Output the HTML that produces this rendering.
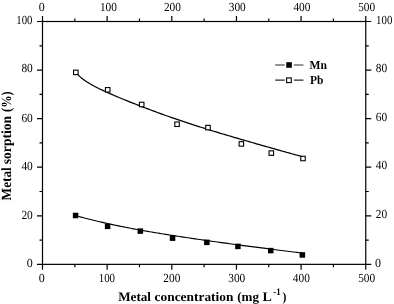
<!DOCTYPE html><html><head><meta charset="utf-8"><title>Metal sorption</title>
<style>html,body{margin:0;padding:0;background:#fff;}svg{display:block}text{font-family:"Liberation Serif",serif;fill:#000;text-rendering:geometricPrecision}.t{font-size:12.3px}.b{font-weight:bold;font-size:13px}.lg{font-weight:bold;font-size:12.3px}</style></head><body>
<svg width="394" height="304" viewBox="0 0 394 304">
<rect width="394" height="304" fill="#fff"/>
<g stroke="#000" stroke-width="1.2" fill="none" stroke-linecap="butt">
<rect x="42.5" y="21.5" width="323.25" height="242.85"/>
<path d="M42.50 21.5 v-5.5 M42.50 264.35 v5.5"/>
<path d="M74.83 21.5 v-3.0 M74.83 264.35 v3.0"/>
<path d="M107.15 21.5 v-5.5 M107.15 264.35 v5.5"/>
<path d="M139.47 21.5 v-3.0 M139.47 264.35 v3.0"/>
<path d="M171.80 21.5 v-5.5 M171.80 264.35 v5.5"/>
<path d="M204.12 21.5 v-3.0 M204.12 264.35 v3.0"/>
<path d="M236.45 21.5 v-5.5 M236.45 264.35 v5.5"/>
<path d="M268.77 21.5 v-3.0 M268.77 264.35 v3.0"/>
<path d="M301.10 21.5 v-5.5 M301.10 264.35 v5.5"/>
<path d="M333.43 21.5 v-3.0 M333.43 264.35 v3.0"/>
<path d="M365.75 21.5 v-5.5 M365.75 264.35 v5.5"/>
<path d="M42.5 264.35 h-5.5 M365.75 264.35 h5.5"/>
<path d="M42.5 240.07 h-3.0 M365.75 240.07 h3.0"/>
<path d="M42.5 215.78 h-5.5 M365.75 215.78 h5.5"/>
<path d="M42.5 191.50 h-3.0 M365.75 191.50 h3.0"/>
<path d="M42.5 167.21 h-5.5 M365.75 167.21 h5.5"/>
<path d="M42.5 142.93 h-3.0 M365.75 142.93 h3.0"/>
<path d="M42.5 118.64 h-5.5 M365.75 118.64 h5.5"/>
<path d="M42.5 94.36 h-3.0 M365.75 94.36 h3.0"/>
<path d="M42.5 70.07 h-5.5 M365.75 70.07 h5.5"/>
<path d="M42.5 45.78 h-3.0 M365.75 45.78 h3.0"/>
<path d="M42.5 21.50 h-5.5 M365.75 21.50 h5.5"/>
</g>
<text class="t" x="41.70" y="11.3" text-anchor="middle" textLength="6.0" lengthAdjust="spacingAndGlyphs">0</text>
<text class="t" x="41.70" y="282.0" text-anchor="middle" textLength="6.0" lengthAdjust="spacingAndGlyphs">0</text>
<text class="t" x="108.40" y="11.3" text-anchor="middle" textLength="17.0" lengthAdjust="spacingAndGlyphs">100</text>
<text class="t" x="106.90" y="282.0" text-anchor="middle" textLength="16.3" lengthAdjust="spacingAndGlyphs">100</text>
<text class="t" x="172.45" y="11.3" text-anchor="middle" textLength="17.0" lengthAdjust="spacingAndGlyphs">200</text>
<text class="t" x="171.85" y="282.0" text-anchor="middle" textLength="17.0" lengthAdjust="spacingAndGlyphs">200</text>
<text class="t" x="237.25" y="11.3" text-anchor="middle" textLength="17.0" lengthAdjust="spacingAndGlyphs">300</text>
<text class="t" x="236.75" y="282.0" text-anchor="middle" textLength="17.0" lengthAdjust="spacingAndGlyphs">300</text>
<text class="t" x="301.90" y="11.3" text-anchor="middle" textLength="17.0" lengthAdjust="spacingAndGlyphs">400</text>
<text class="t" x="301.30" y="282.0" text-anchor="middle" textLength="17.0" lengthAdjust="spacingAndGlyphs">400</text>
<text class="t" x="366.65" y="11.3" text-anchor="middle" textLength="17.0" lengthAdjust="spacingAndGlyphs">500</text>
<text class="t" x="366.65" y="282.0" text-anchor="middle" textLength="17.0" lengthAdjust="spacingAndGlyphs">500</text>
<text class="t" x="32.8" y="266.85" text-anchor="end" textLength="6.0" lengthAdjust="spacingAndGlyphs">0</text>
<text class="t" x="375.1" y="266.85" text-anchor="start" textLength="6.0" lengthAdjust="spacingAndGlyphs">0</text>
<text class="t" x="32.8" y="219.28" text-anchor="end" textLength="11.4" lengthAdjust="spacingAndGlyphs">20</text>
<text class="t" x="375.8" y="218.48" text-anchor="start" textLength="11.4" lengthAdjust="spacingAndGlyphs">20</text>
<text class="t" x="32.8" y="170.21" text-anchor="end" textLength="11.4" lengthAdjust="spacingAndGlyphs">40</text>
<text class="t" x="375.8" y="169.41" text-anchor="start" textLength="11.4" lengthAdjust="spacingAndGlyphs">40</text>
<text class="t" x="32.8" y="122.14" text-anchor="end" textLength="11.4" lengthAdjust="spacingAndGlyphs">60</text>
<text class="t" x="375.8" y="121.34" text-anchor="start" textLength="11.4" lengthAdjust="spacingAndGlyphs">60</text>
<text class="t" x="32.8" y="72.47" text-anchor="end" textLength="11.4" lengthAdjust="spacingAndGlyphs">80</text>
<text class="t" x="375.8" y="72.17" text-anchor="start" textLength="11.4" lengthAdjust="spacingAndGlyphs">80</text>
<text class="t" x="32.5" y="24.20" text-anchor="end" textLength="16.2" lengthAdjust="spacingAndGlyphs">100</text>
<text class="t" x="376.1" y="24.20" text-anchor="start" textLength="16.2" lengthAdjust="spacingAndGlyphs">100</text>
<path d="M75.80 72.21 C76.30 72.78 77.80 74.60 78.80 75.61 C79.80 76.63 80.80 77.50 81.80 78.33 C82.80 79.15 83.80 79.88 84.80 80.59 C85.80 81.29 86.80 81.94 87.80 82.56 C88.80 83.18 89.80 83.76 90.80 84.32 C91.80 84.89 92.80 85.42 93.80 85.94 C94.80 86.47 95.80 86.98 96.80 87.48 C97.80 87.98 98.80 88.47 99.80 88.95 C100.80 89.43 101.80 89.90 102.80 90.36 C103.80 90.83 104.80 91.29 105.80 91.74 C106.80 92.19 107.80 92.64 108.80 93.08 C109.80 93.53 110.80 93.97 111.80 94.40 C112.80 94.84 113.80 95.27 114.80 95.70 C115.80 96.13 116.80 96.54 117.80 96.97 C118.80 97.39 119.80 97.81 120.80 98.22 C121.80 98.64 122.80 99.05 123.80 99.46 C124.80 99.88 125.80 100.29 126.80 100.70 C127.80 101.10 128.80 101.51 129.80 101.91 C130.80 102.31 131.80 102.71 132.80 103.10 C133.80 103.50 134.80 103.89 135.80 104.29 C136.80 104.68 137.80 105.06 138.80 105.45 C139.80 105.84 140.80 106.23 141.80 106.62 C142.80 107.00 143.80 107.37 144.80 107.75 C145.80 108.13 146.80 108.51 147.80 108.89 C148.80 109.27 149.80 109.65 150.80 110.02 C151.80 110.39 152.80 110.76 153.80 111.13 C154.80 111.50 155.80 111.86 156.80 112.23 C157.80 112.59 158.80 112.95 159.80 113.32 C160.80 113.68 161.80 114.03 162.80 114.39 C163.80 114.75 164.80 115.12 165.80 115.47 C166.80 115.83 167.80 116.18 168.80 116.53 C169.80 116.88 170.80 117.23 171.80 117.57 C172.80 117.92 173.80 118.26 174.80 118.61 C175.80 118.95 176.80 119.30 177.80 119.64 C178.80 119.99 179.80 120.33 180.80 120.66 C181.80 121.00 182.80 121.34 183.80 121.67 C184.80 122.01 185.80 122.34 186.80 122.67 C187.80 123.00 188.80 123.33 189.80 123.66 C190.80 123.98 191.80 124.31 192.80 124.64 C193.80 124.96 194.80 125.29 195.80 125.61 C196.80 125.93 197.80 126.25 198.80 126.57 C199.80 126.89 200.80 127.21 201.80 127.52 C202.80 127.84 203.80 128.16 204.80 128.47 C205.80 128.78 206.80 129.09 207.80 129.40 C208.80 129.71 209.80 130.02 210.80 130.33 C211.80 130.64 212.80 130.95 213.80 131.26 C214.80 131.56 215.80 131.87 216.80 132.17 C217.80 132.48 218.80 132.78 219.80 133.08 C220.80 133.38 221.80 133.68 222.80 133.98 C223.80 134.28 224.80 134.57 225.80 134.87 C226.80 135.17 227.80 135.47 228.80 135.76 C229.80 136.06 230.80 136.35 231.80 136.65 C232.80 136.94 233.80 137.23 234.80 137.53 C235.80 137.82 236.80 138.12 237.80 138.41 C238.80 138.70 239.80 138.99 240.80 139.28 C241.80 139.57 242.80 139.86 243.80 140.15 C244.80 140.44 245.80 140.73 246.80 141.01 C247.80 141.30 248.80 141.59 249.80 141.88 C250.80 142.17 251.80 142.46 252.80 142.74 C253.80 143.03 254.80 143.31 255.80 143.60 C256.80 143.88 257.80 144.17 258.80 144.45 C259.80 144.74 260.80 145.03 261.80 145.31 C262.80 145.60 263.80 145.89 264.80 146.17 C265.80 146.45 266.80 146.74 267.80 147.02 C268.80 147.30 269.80 147.59 270.80 147.87 C271.80 148.15 272.80 148.43 273.80 148.71 C274.80 148.99 275.80 149.27 276.80 149.55 C277.80 149.84 278.80 150.13 279.80 150.41 C280.80 150.69 281.80 150.96 282.80 151.24 C283.80 151.52 284.80 151.81 285.80 152.09 C286.80 152.37 287.80 152.64 288.80 152.92 C289.80 153.20 290.80 153.49 291.80 153.77 C292.80 154.05 293.80 154.33 294.80 154.60 C295.80 154.88 296.80 155.15 297.80 155.43 C298.80 155.71 299.93 156.03 300.80 156.27 C301.67 156.51 302.63 156.78 303.00 156.88" stroke="#000" stroke-width="1.25" fill="none"/>
<path d="M75.60 215.56 C76.27 215.75 78.27 216.31 79.60 216.68 C80.93 217.05 82.27 217.41 83.60 217.76 C84.93 218.11 86.27 218.46 87.60 218.80 C88.93 219.14 90.27 219.48 91.60 219.81 C92.93 220.14 94.27 220.47 95.60 220.79 C96.93 221.11 98.27 221.43 99.60 221.74 C100.93 222.05 102.27 222.36 103.60 222.66 C104.93 222.96 106.27 223.27 107.60 223.56 C108.93 223.85 110.27 224.13 111.60 224.42 C112.93 224.70 114.27 224.99 115.60 225.27 C116.93 225.55 118.27 225.82 119.60 226.09 C120.93 226.36 122.27 226.63 123.60 226.90 C124.93 227.17 126.27 227.42 127.60 227.68 C128.93 227.94 130.27 228.20 131.60 228.45 C132.93 228.70 134.27 228.95 135.60 229.20 C136.93 229.45 138.27 229.69 139.60 229.93 C140.93 230.17 142.27 230.41 143.60 230.65 C144.93 230.89 146.27 231.12 147.60 231.35 C148.93 231.58 150.27 231.81 151.60 232.04 C152.93 232.27 154.27 232.50 155.60 232.72 C156.93 232.94 158.27 233.16 159.60 233.38 C160.93 233.60 162.27 233.82 163.60 234.04 C164.93 234.26 166.27 234.47 167.60 234.68 C168.93 234.89 170.27 235.10 171.60 235.31 C172.93 235.52 174.27 235.73 175.60 235.94 C176.93 236.15 178.27 236.35 179.60 236.55 C180.93 236.75 182.27 236.96 183.60 237.16 C184.93 237.36 186.27 237.56 187.60 237.76 C188.93 237.96 190.27 238.15 191.60 238.35 C192.93 238.55 194.27 238.75 195.60 238.94 C196.93 239.13 198.27 239.33 199.60 239.52 C200.93 239.71 202.27 239.90 203.60 240.09 C204.93 240.28 206.27 240.47 207.60 240.66 C208.93 240.85 210.27 241.03 211.60 241.22 C212.93 241.41 214.27 241.59 215.60 241.78 C216.93 241.97 218.27 242.16 219.60 242.34 C220.93 242.52 222.27 242.70 223.60 242.88 C224.93 243.06 226.27 243.25 227.60 243.43 C228.93 243.61 230.27 243.79 231.60 243.97 C232.93 244.15 234.27 244.33 235.60 244.51 C236.93 244.69 238.27 244.86 239.60 245.04 C240.93 245.22 242.27 245.39 243.60 245.57 C244.93 245.75 246.27 245.92 247.60 246.10 C248.93 246.28 250.27 246.45 251.60 246.62 C252.93 246.79 254.27 246.97 255.60 247.14 C256.93 247.31 258.27 247.49 259.60 247.66 C260.93 247.83 262.27 248.01 263.60 248.18 C264.93 248.35 266.27 248.52 267.60 248.69 C268.93 248.86 270.27 249.04 271.60 249.21 C272.93 249.38 274.27 249.55 275.60 249.72 C276.93 249.89 278.27 250.06 279.60 250.23 C280.93 250.40 282.27 250.56 283.60 250.73 C284.93 250.90 286.27 251.07 287.60 251.24 C288.93 251.41 290.27 251.57 291.60 251.74 C292.93 251.91 294.27 252.08 295.60 252.25 C296.93 252.42 298.48 252.61 299.60 252.75 C300.72 252.89 301.85 253.03 302.30 253.08" stroke="#000" stroke-width="1.15" fill="none"/>
<rect x="73.55" y="70.15" width="4.5" height="4.5" fill="#fff" stroke="#000" stroke-width="1.1"/>
<rect x="105.45" y="87.55" width="4.5" height="4.5" fill="#fff" stroke="#000" stroke-width="1.1"/>
<rect x="139.45" y="102.25" width="4.5" height="4.5" fill="#fff" stroke="#000" stroke-width="1.1"/>
<rect x="174.80" y="122.00" width="4.5" height="4.5" fill="#fff" stroke="#000" stroke-width="1.1"/>
<rect x="205.75" y="125.35" width="4.5" height="4.5" fill="#fff" stroke="#000" stroke-width="1.1"/>
<rect x="239.10" y="141.65" width="4.5" height="4.5" fill="#fff" stroke="#000" stroke-width="1.1"/>
<rect x="269.05" y="150.85" width="4.5" height="4.5" fill="#fff" stroke="#000" stroke-width="1.1"/>
<rect x="300.75" y="156.25" width="4.5" height="4.5" fill="#fff" stroke="#000" stroke-width="1.1"/>
<rect x="72.85" y="212.75" width="5.5" height="5.5" fill="#000"/>
<rect x="104.85" y="223.60" width="5.5" height="5.5" fill="#000"/>
<rect x="137.55" y="228.35" width="5.5" height="5.5" fill="#000"/>
<rect x="169.80" y="235.40" width="5.5" height="5.5" fill="#000"/>
<rect x="204.10" y="239.60" width="5.5" height="5.5" fill="#000"/>
<rect x="235.15" y="243.65" width="5.5" height="5.5" fill="#000"/>
<rect x="268.00" y="247.85" width="5.5" height="5.5" fill="#000"/>
<rect x="299.60" y="252.20" width="5.5" height="5.5" fill="#000"/>
<path d="M275.2 65.0 H284.8 M293.9 65.0 H303.4" stroke="#2a2a2a" stroke-width="1.05"/>
<rect x="286.25" y="62.20" width="5.6" height="5.6" fill="#000"/>
<path d="M275.2 80.1 H284.8 M293.9 80.1 H303.4" stroke="#2a2a2a" stroke-width="1.05"/>
<rect x="286.60" y="77.90" width="4.7" height="4.7" fill="#fff" stroke="#000" stroke-width="1.1"/>
<text class="lg" x="309.6" y="69.2" textLength="17.4" lengthAdjust="spacingAndGlyphs">Mn</text>
<text class="lg" x="309.9" y="84.0" textLength="13.4" lengthAdjust="spacingAndGlyphs">Pb</text>
<text class="b" x="118.2" y="300.5" textLength="32.8" lengthAdjust="spacingAndGlyphs">Metal</text>
<text class="b" x="154.6" y="300.5" textLength="78.8" lengthAdjust="spacingAndGlyphs">concentration</text>
<text class="b" x="237.2" y="300.5" textLength="21.8" lengthAdjust="spacingAndGlyphs">(mg</text>
<text class="b" x="262.5" y="300.5" textLength="9.3" lengthAdjust="spacingAndGlyphs">L</text>
<text class="b" x="273.3" y="295.1" textLength="7.3" lengthAdjust="spacingAndGlyphs" style="font-size:10px">-1</text>
<text class="b" x="282.6" y="300.5" textLength="3.9" lengthAdjust="spacingAndGlyphs">)</text>
<g transform="translate(11.1 0) rotate(-90)">
<text class="b" x="-200.4" y="0" textLength="33.2" lengthAdjust="spacingAndGlyphs" style="font-size:14px">Metal</text>
<text class="b" x="-164.2" y="0" textLength="48.2" lengthAdjust="spacingAndGlyphs" style="font-size:14px">sorption</text>
<text class="b" x="-111.9" y="0" textLength="20.5" lengthAdjust="spacingAndGlyphs" style="font-size:14px">(%)</text>
</g>
</svg></body></html>
